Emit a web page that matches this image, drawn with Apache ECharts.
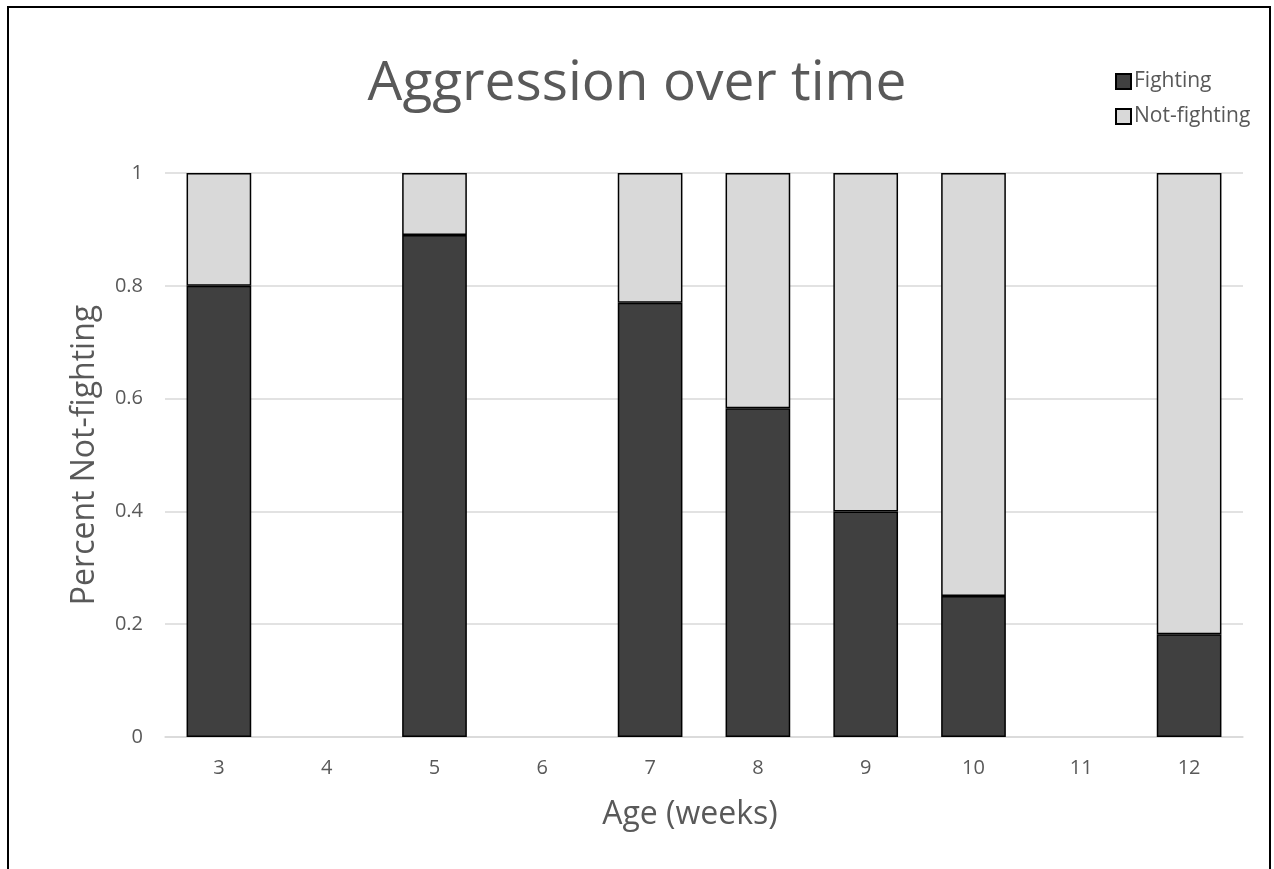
<!DOCTYPE html>
<html>
<head>
<meta charset="utf-8">
<style>
  html, body { margin: 0; padding: 0; background: #fff; }
  #main { width: 1274px; height: 869px; }
</style>
<script src="https://cdn.jsdelivr.net/npm/echarts@6/dist/echarts.min.js"></script>
</head>
<body>
<div id="main"></div>
<script>
// age in weeks
const ages = ['3', '4', '5', '6', '7', '8', '9', '10', '11', '12'];
// share of observations, per week (no data for 4, 6, 11)
const fighting = [0.8, null, 0.89, null, 0.77, 0.583, 0.4, 0.25, null, 0.182];
const notFighting = [0.2, null, 0.11, null, 0.23, 0.417, 0.6, 0.75, null, 0.818];

const textColor = '#595959';
const font = 'Open Sans';

const chart = echarts.init(document.getElementById('main'));

const option = {
  backgroundColor: '#fff',
  animation: false,
  title: {
    text: 'Aggression over time',
    left: 'center',
    top: 52,
    textStyle: { fontFamily: font, fontSize: 55, fontWeight: 'normal', color: textColor }
  },
  legend: {
    orient: 'vertical',
    left: 1110,
    top: 66,
    icon: 'rect',
    itemWidth: 15,
    itemHeight: 15,
    itemGap: 14,
    textStyle: { fontFamily: font, fontSize: 21, color: textColor, padding: [0, 0, 0, -2] },
    data: ['Fighting', 'Not-fighting']
  },
  grid: { left: 165, right: 31, top: 173, bottom: 132 },
  xAxis: {
    type: 'category',
    data: ages,
    name: 'Age (weeks)',
    nameLocation: 'middle',
    nameGap: 62,
    nameTextStyle: { fontFamily: font, fontSize: 32, color: textColor, padding: [0, 28, 0, 0] },
    axisLine: { lineStyle: { color: '#d9d9d9', width: 1.5 } },
    axisTick: { show: false },
    axisLabel: { fontFamily: font, fontSize: 20, color: textColor, margin: 21 }
  },
  yAxis: {
    type: 'value',
    min: 0,
    max: 1,
    interval: 0.2,
    name: 'Percent Not-fighting',
    nameLocation: 'middle',
    nameGap: 64,
    nameTextStyle: { fontFamily: font, fontSize: 32, color: textColor },
    axisLine: { show: false },
    axisTick: { show: false },
    splitLine: { lineStyle: { color: '#d9d9d9', width: 1.5 } },
    axisLabel: { fontFamily: font, fontSize: 20, color: textColor, margin: 22 }
  },
  series: [
    {
      name: 'Fighting',
      type: 'bar',
      stack: 'total',
      barCategoryGap: '40%',
      data: fighting,
      itemStyle: { color: '#404040', borderColor: '#000', borderWidth: 1.5 }
    },
    {
      name: 'Not-fighting',
      type: 'bar',
      stack: 'total',
      barCategoryGap: '40%',
      data: notFighting,
      itemStyle: { color: '#d9d9d9', borderColor: '#000', borderWidth: 1.5 }
    }
  ],
  graphic: [{
    type: 'rect',
    silent: true,
    shape: { x: 8, y: 7, width: 1262, height: 900 },
    style: { fill: 'none', stroke: '#000', lineWidth: 2 }
  }]
};

chart.setOption(option);
</script>
</body>
</html>
